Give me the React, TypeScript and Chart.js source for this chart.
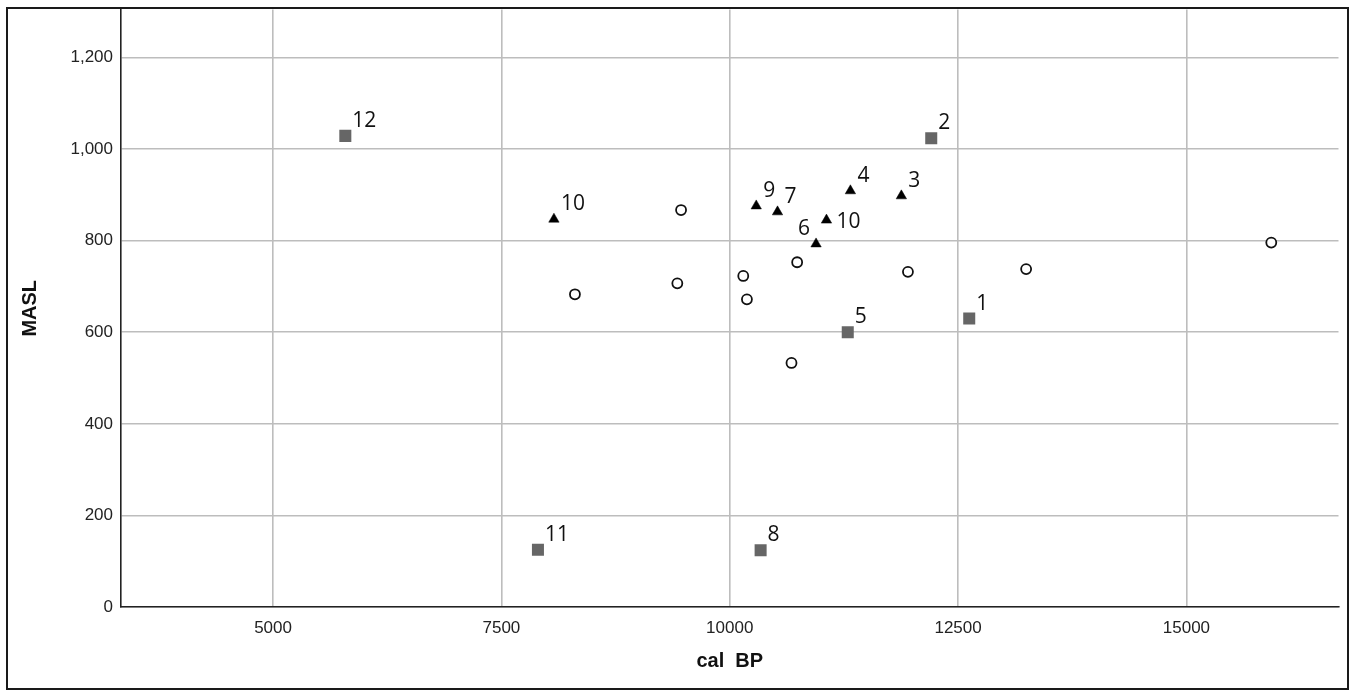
import React, { useEffect, useRef } from "react";
import { Chart, registerables } from "chart.js";

Chart.register(...registerables);

// Axis ticks
const X_TICKS = [5000, 7500, 10000, 12500, 15000];
const Y_TICKS = [0, 200, 400, 600, 800, 1000, 1200];
const X_MIN = 3335;
const X_MAX = 16665;
const Y_MIN = 0;
const Y_MAX = 1305;

// Open circles (unlabelled)
const circleX = [9467, 8305, 9426, 10738, 10148, 11951, 10188, 10676, 13245, 15929];
const circleY = [867, 683, 707, 753, 723, 732, 672, 533, 738, 796];

// Black triangles
const triangleX = [11879, 11321, 10945, 10523, 10290, 11059, 8075];
const triangleY = [898, 909, 793, 863, 876, 845, 847];
const triangleLabels = ["3", "4", "6", "7", "9", "10", "10"];
const trianglePlacement = ["ne", "ne", "nw", "ne", "ne", "e", "ne"];

// Grey squares
const squareX = [12622, 12206, 11292, 10338, 7900, 5791];
const squareY = [630, 1024, 600, 124, 125, 1029];
const squareLabels = ["1", "2", "5", "8", "11", "12"];
const squarePlacement = ["ne", "ne", "ne", "ne", "ne", "ne"];

const TICK_FONT = { family: "'Liberation Sans', Arial, sans-serif", size: 17 };
const TITLE_FONT = { family: "'Liberation Sans', Arial, sans-serif", size: 20, weight: "bold" as const };

const pointLabelPlugin = {
  id: "pointLabels",
  afterDatasetsDraw(chart: any) {
    const ctx = chart.ctx as CanvasRenderingContext2D;
    chart.data.datasets.forEach((ds: any, di: number) => {
      const labels: string[] | undefined = ds.pointLabels;
      const places: string[] = ds.labelPlacement || [];
      if (!labels) return;
      const meta = chart.getDatasetMeta(di);
      ctx.save();
      ctx.font = "21px 'Open Sans', 'Noto Sans', sans-serif";
      ctx.fillStyle = "#111";
      ctx.textBaseline = "alphabetic";
      meta.data.forEach((el: any, i: number) => {
        const t = labels[i];
        if (!t) return;
        const p = places[i] || "ne";
        const x = el.x;
        const y = el.y;
        if (p === "e") {
          ctx.textAlign = "left";
          ctx.fillText(t, x + 10, y + 8);
        } else if (p === "nw") {
          ctx.textAlign = "right";
          ctx.fillText(t, x - 6, y - 9);
        } else {
          ctx.textAlign = "left";
          ctx.fillText(t, x + 7, y - 9);
        }
      });
      ctx.restore();
    });
  },
};

const toPoints = (xs: number[], ys: number[]) => xs.map((x, i) => ({ x, y: ys[i] }));

export default function App() {
  const canvasRef = useRef<HTMLCanvasElement | null>(null);

  useEffect(() => {
    document.body.style.overflow = "hidden";
    const canvas = canvasRef.current;
    if (!canvas) return;
    const chart = new Chart(canvas, {
      type: "scatter",
      data: {
        datasets: [
          {
            label: "circles",
            data: toPoints(circleX, circleY),
            pointStyle: "circle",
            pointRadius: 5,
            pointHoverRadius: 5,
            pointBackgroundColor: "#ffffff",
            pointBorderColor: "#111111",
            pointBorderWidth: 1.8,
          },
          {
            label: "triangles",
            data: toPoints(triangleX, triangleY),
            pointStyle: "triangle",
            pointRadius: 6,
            pointHoverRadius: 6,
            pointBackgroundColor: "#000000",
            pointBorderColor: "#000000",
            pointBorderWidth: 0.5,
            pointLabels: triangleLabels,
            labelPlacement: trianglePlacement,
          } as any,
          {
            label: "squares",
            data: toPoints(squareX, squareY),
            pointStyle: "rect",
            pointRadius: 8.5,
            pointHoverRadius: 8.5,
            pointBackgroundColor: "#666666",
            pointBorderColor: "#666666",
            pointBorderWidth: 0,
            pointLabels: squareLabels,
            labelPlacement: squarePlacement,
          } as any,
        ],
      },
      options: {
        animation: false,
        responsive: false,
        maintainAspectRatio: false,
        layout: { padding: { top: 0, left: 0, right: 3, bottom: 0 } },
        plugins: {
          legend: { display: false },
          tooltip: { enabled: false },
        },
        scales: {
          x: {
            type: "linear",
            position: "bottom",
            min: X_MIN,
            max: X_MAX,
            afterBuildTicks: (axis: any) => {
              axis.ticks = X_TICKS.map((v) => ({ value: v }));
            },
            afterFit: (axis: any) => {
              axis.height = 81;
              axis.paddingLeft = 0;
              axis.paddingRight = 0;
            },
            ticks: {
              font: TICK_FONT,
              color: "#222",
              padding: 11,
              maxRotation: 0,
              autoSkip: false,
              callback: (v: any) => String(v),
            },
            grid: { color: "#bdbdbd", lineWidth: 1.6, drawTicks: false },
            border: { color: "#222", width: 1.6 },
            title: {
              display: true,
              text: "cal  BP",
              font: TITLE_FONT,
              color: "#111",
              padding: { top: 0, bottom: 15 },
            },
          },
          y: {
            type: "linear",
            min: Y_MIN,
            max: Y_MAX,
            afterBuildTicks: (axis: any) => {
              axis.ticks = Y_TICKS.map((v) => ({ value: v }));
            },
            afterFit: (axis: any) => {
              axis.width = 113;
              axis.paddingTop = 0;
              axis.paddingBottom = 0;
            },
            ticks: {
              font: TICK_FONT,
              color: "#222",
              padding: 8,
              autoSkip: false,
              callback: (v: any) => Number(v).toLocaleString("en-US"),
            },
            grid: { color: "#bdbdbd", lineWidth: 1.6, drawTicks: false },
            border: { color: "#222", width: 1.6 },
            title: {
              display: true,
              text: "MASL",
              font: TITLE_FONT,
              color: "#111",
              padding: { top: 10, bottom: 0 },
            },
          },
        },
      },
      plugins: [pointLabelPlugin],
    } as any);
    return () => chart.destroy();
  }, []);

  return (
    <div
      style={{
        position: "fixed",
        left: 6,
        top: 7,
        width: 1343,
        height: 683,
        boxSizing: "border-box",
        border: "2px solid #1a1a1a",
        background: "#fff",
        overflow: "hidden",
      }}
    >
      <canvas
        ref={canvasRef}
        width={1339}
        height={687}
        style={{ display: "block", marginTop: -8 }}
      />
    </div>
  );
}
